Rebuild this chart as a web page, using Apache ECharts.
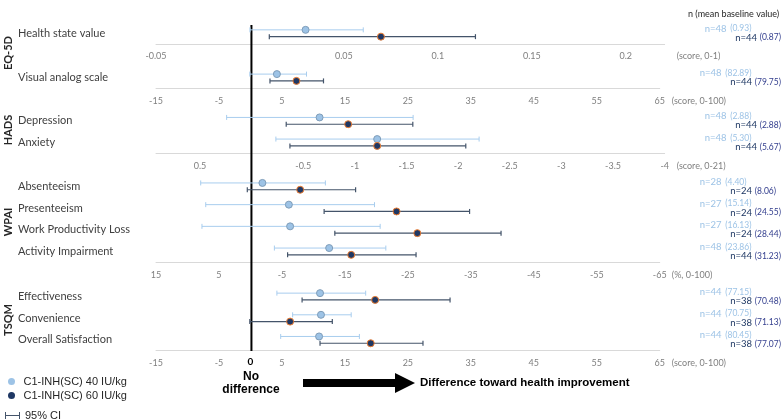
<!DOCTYPE html>
<html><head><meta charset="utf-8">
<script src="https://cdn.jsdelivr.net/npm/echarts@6/dist/echarts.min.js"></script>
<style>html,body{margin:0;padding:0;background:#fff}#c{width:784px;height:420px}</style>
</head><body><div id="c"></div>
<script>
// ---------- data ----------
const rowNames = ['Health state value', 'Visual analog scale', 'Depression', 'Anxiety',
  'Absenteeism', 'Presenteeism', 'Work Productivity Loss', 'Activity Impairment',
  'Effectiveness', 'Convenience', 'Overall Satisfaction'];
const rowPanel = [0, 1, 2, 2, 3, 3, 3, 3, 4, 4, 4];
const groupNames = ['EQ-5D', 'HADS', 'WPAI', 'TSQM'];
const axisUnits = ['(score, 0-1)', '(score, 0-100)', '(score, 0-21)', '(%, 0-100)', '(score, 0-100)'];

const mean40 = [0.0296, 4.2, -0.658, -1.216, -1.9, -6.1, -6.3, -12.5, 11.05, 11.2, 10.9];
const lo40   = [0.000, -0.1, 0.242, -0.235, 7.9, 7.1, 7.7, -3.8, 4.2, 6.7, 4.8];
const hi40   = [0.0603, 8.9, -1.564, -2.203, -11.9, -19.7, -20.6, -21.5, 18.3, 16.0, 17.3];
const mean60 = [0.0697, 7.3, -0.935, -1.216, -7.9, -23.2, -26.5, -16.0, 19.8, 6.3, 19.1];
const lo60   = [0.0103, 3.1, -0.335, -0.371, 0.5, -11.7, -13.4, -5.9, 8.2, -0.1, 11.05];
const hi60   = [0.120, 11.6, -1.561, -2.074, -16.7, -34.8, -39.8, -26.3, 31.7, 13.0, 27.4];

const n40 = [48, 48, 48, 48, 28, 27, 27, 48, 44, 44, 44];
const base40 = ['0.93', '82.89', '2.88', '5.30', '4.40', '15.14', '16.13', '23.86', '77.15', '70.75', '80.45'];
const n60 = [44, 44, 44, 44, 24, 24, 24, 44, 38, 38, 38];
const base60 = ['0.87', '79.75', '2.88', '5.67', '8.06', '24.55', '28.44', '31.23', '70.48', '71.13', '77.07'];

const ticksEQ = [-0.05, 0.05, 0.1, 0.15, 0.2];
const ticks100 = [-15, -5, 5, 15, 25, 35, 45, 55, 65];
const ticksHADS = [0.5, -0.5, -1, -1.5, -2, -2.5, -3, -3.5, -4];
const ticksWPAI = [15, 5, -5, -15, -25, -35, -45, -55, -65];

const seriesNames = ['C1-INH(SC) 40 IU/kg', 'C1-INH(SC) 60 IU/kg', '95% CI'];

// ---------- layout / style ----------
const C40 = '#9DC3E6', C40B = '#7F9DB9', C40CI = '#A8CDEE';
const C60 = '#1F3864', C60B = '#ED7D31', C60CI = '#44546A';
const GRID_L = 156, GRID_R = 119;
const panelTicks = [ticksEQ, ticks100, ticksHADS, ticksWPAI, ticks100];
const panelScale = [
  {min: -0.05, max: 0.2207, interval: 0.05, inverse: false},
  {min: -15, max: 65, interval: 10, inverse: false},
  {min: -4, max: 0.926, interval: 0.5, inverse: true},
  {min: -65, max: 15, interval: 10, inverse: true},
  {min: -15, max: 65, interval: 10, inverse: false}
];
const panelTop = [22.5, 66.7, 110, 175.5, 285.7];
const panelH = [21.5, 21.6, 43.3, 86.8, 65];

const grids = [], xAxes = [], yAxes = [], series = [];
for (let p = 0; p < 5; p++) {
  const rows = rowNames.map((n, i) => i).filter(i => rowPanel[i] === p);
  const cats = rows.map(i => rowNames[i]);
  const sc = panelScale[p];
  const ticks = panelTicks[p];
  grids.push({left: GRID_L, right: GRID_R, top: panelTop[p], height: panelH[p]});
  xAxes.push({
    gridIndex: p, type: 'value', min: sc.min, max: sc.max, interval: sc.interval, inverse: sc.inverse,
    axisLine: {show: true, lineStyle: {color: '#D9D9D9', width: 1}},
    axisTick: {show: false}, splitLine: {show: false},
    axisLabel: {
      margin: 8, color: '#7F7F7F', fontSize: 9, fontFamily: 'Lato',
      formatter: v => { const t = ticks.find(t => Math.abs(t - v) < 1e-6); return t === undefined ? '' : String(t); }
    },
    name: axisUnits[p], nameLocation: sc.inverse ? 'start' : 'end', nameGap: 12,
    nameTextStyle: {color: '#7F7F7F', fontSize: 9, fontFamily: 'Lato', align: 'left', verticalAlign: 'top', padding: [8, 0, 0, 0]}
  });
  yAxes.push({
    gridIndex: p, type: 'category', data: cats, inverse: true,
    axisLine: {show: false}, axisTick: {show: false}, splitLine: {show: false},
    axisLabel: {interval: 0, align: 'left', margin: 138, color: '#404040', fontSize: 11, fontFamily: 'Lato'}
  });
  yAxes.push({
    gridIndex: p, type: 'category', data: cats, inverse: true, position: 'right',
    axisLine: {show: false}, axisTick: {show: false}, splitLine: {show: false},
    axisLabel: {
      interval: 0, align: 'left', margin: 40, lineHeight: 9,
      formatter: (v, idx) => {
        const i = rows[idx];
        return '{a|n=' + n40[i] + '}{b|(' + base40[i] + ')}\n{s| }{c|n=' + n60[i] + '}{d|(' + base60[i] + ')}';
      },
      rich: {
        a: {color: C40, fontSize: 9.5, fontFamily: 'Lato', width: 25.5, lineHeight: 9},
        b: {color: C40, fontSize: 8.5, fontFamily: 'Lato', lineHeight: 9},
        s: {width: 30.5, fontSize: 8, lineHeight: 9},
        c: {color: '#1F3864', fontSize: 9.5, fontFamily: 'Lato', width: 24.5, lineHeight: 9},
        d: {color: '#35408F', fontSize: 8.5, fontFamily: 'Lato', lineHeight: 9}
      }
    }
  });
  series.push({
    name: seriesNames[2], type: 'custom', xAxisIndex: p, yAxisIndex: 2 * p, z: 2, silent: true,
    itemStyle: {color: C60CI},
    encode: {x: [1, 2, 3, 4], y: 0},
    data: rows.map((i, k) => [k, lo40[i], hi40[i], lo60[i], hi60[i]]),
    renderItem: (params, api) => {
      const k = api.value(0);
      const defs = [[api.value(1), api.value(2), -3.4, C40CI, 1], [api.value(3), api.value(4), 3.4, C60CI, 1.2]];
      const children = [];
      defs.forEach(([lo, hi, dy, col, lw]) => {
        const a = api.coord([lo, k]), b = api.coord([hi, k]);
        const y = a[1] + dy;
        const st = {stroke: col, lineWidth: lw};
        children.push({type: 'line', shape: {x1: a[0], y1: y, x2: b[0], y2: y}, style: st});
        children.push({type: 'line', shape: {x1: a[0], y1: y - 2.5, x2: a[0], y2: y + 2.5}, style: st});
        children.push({type: 'line', shape: {x1: b[0], y1: y - 2.5, x2: b[0], y2: y + 2.5}, style: st});
      });
      return {type: 'group', children};
    }
  });
  series.push({
    name: seriesNames[0], type: 'scatter', xAxisIndex: p, yAxisIndex: 2 * p, z: 3,
    symbol: 'circle', symbolSize: 7, symbolOffset: [0, -3.4],
    itemStyle: {color: C40, borderColor: C40B, borderWidth: 1, opacity: 1},
    data: rows.map((i, k) => [mean40[i], k])
  });
  series.push({
    name: seriesNames[1], type: 'scatter', xAxisIndex: p, yAxisIndex: 2 * p, z: 4,
    symbol: 'circle', symbolSize: 7, symbolOffset: [0, 3.4],
    itemStyle: {color: C60, borderColor: C60B, borderWidth: 1, opacity: 1},
    data: rows.map((i, k) => [mean60[i], k])
  });
}
// zero reference line (hidden full-height grid sharing the 0-100 pixel mapping)
grids.push({left: GRID_L, right: GRID_R, top: 25, bottom: 69});
xAxes.push({gridIndex: 5, type: 'value', min: -15, max: 65, show: false});
yAxes.push({gridIndex: 5, type: 'value', min: 0, max: 1, show: false});
series.push({
  type: 'line', xAxisIndex: 5, yAxisIndex: 10, symbol: 'none', silent: true, z: 1,
  lineStyle: {color: '#000', width: 2}, data: [[0, 0], [0, 1]]
});

const groupY = [53, 130, 222, 320];
const graphics = groupNames.map((g, i) => ({
  type: 'text', x: 8, y: groupY[i], rotation: Math.PI / 2,
  style: {text: g, align: 'center', verticalAlign: 'middle', font: 'bold 11px Lato', fill: '#262626'}
}));
graphics.push(
  {type: 'text', x: 688, y: 14, style: {text: 'n (mean baseline value)', align: 'left', verticalAlign: 'middle', font: '9px Lato', fill: '#262626'}},
  {type: 'text', x: 250.5, y: 362, style: {text: '0', align: 'center', verticalAlign: 'middle', font: 'bold 10px Lato', fill: '#000'}},
  {type: 'text', x: 251, y: 383, style: {text: 'No\ndifference', align: 'center', verticalAlign: 'middle', lineHeight: 13, font: 'bold 12px "Liberation Sans", Arial', fill: '#000'}},
  {type: 'polygon', shape: {points: [[303, 379], [395, 379], [395, 373], [415, 383], [395, 393], [395, 387], [303, 387]]}, style: {fill: '#000'}},
  {type: 'text', x: 420, y: 383, style: {text: 'Difference toward health improvement', align: 'left', verticalAlign: 'middle', font: 'bold 11.5px "Liberation Sans", Arial', fill: '#000'}}
);

const chart = echarts.init(document.getElementById('c'), null, {renderer: 'canvas'});
chart.setOption({
  animation: false,
  backgroundColor: '#fff',
  grid: grids, xAxis: xAxes, yAxis: yAxes, series: series,
  legend: [
    {
      orient: 'vertical', left: 3, top: 371, itemWidth: 14, itemHeight: 7, itemGap: 3,
      textStyle: {fontSize: 11, fontFamily: '"Liberation Sans", Arial', color: '#262626'},
      data: [
        {name: seriesNames[0], icon: 'circle', itemStyle: {borderWidth: 0}},
        {name: seriesNames[1], icon: 'circle', itemStyle: {borderWidth: 0}}
      ]
    },
    {
      orient: 'vertical', left: 0, top: 405, itemWidth: 15, itemHeight: 7, itemGap: 3,
      textStyle: {fontSize: 11, fontFamily: '"Liberation Sans", Arial', color: '#262626'},
      data: [{name: seriesNames[2], icon: 'path://M0,0h1v7h-1z M0,3h15v1h-15z M14,0h1v7h-1z'}]
    }
  ],
  graphic: graphics
});
</script>
</body></html>
